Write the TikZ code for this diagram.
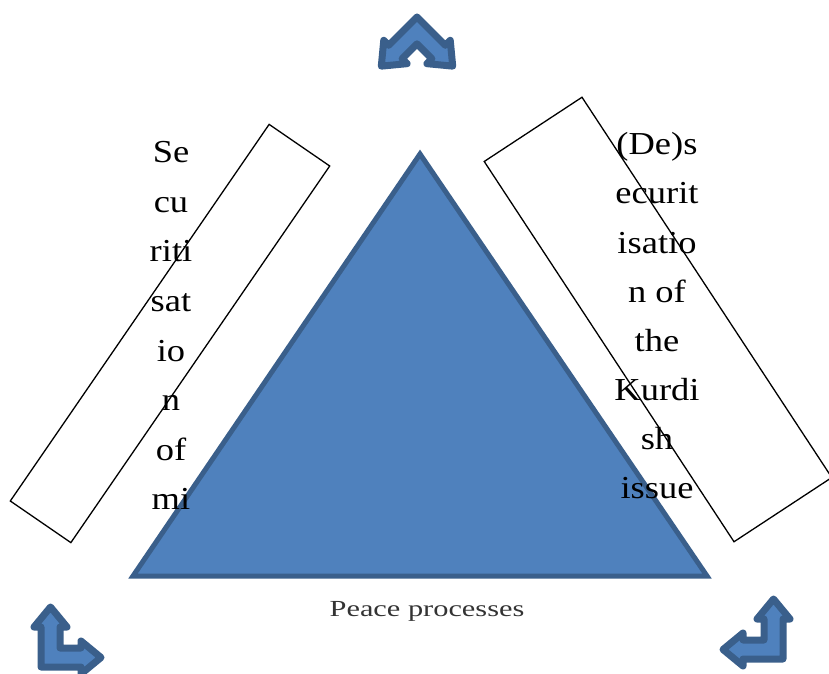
\documentclass[tikz,border=0pt]{standalone}
\usepackage{fontspec}
\setmainfont{Liberation Serif}
\usepackage{xcolor}
\usetikzlibrary{positioning}

\definecolor{triblue}{HTML}{4F81BD}
\definecolor{edgeblue}{HTML}{3A5F8B}
\definecolor{labelgray}{HTML}{333333}

\tikzset{
  arrowshape/.style={fill=triblue, draw=edgeblue, line width=7pt, line join=round},
  bentarrow/.pic={
    \draw[arrowshape] (0,0) -- (40,0) -- (40,-7) -- (60,9.5) -- (40,26) -- (40,19)
      -- (19,19) -- (19,40) -- (26,40) -- (9.5,60) -- (-7,40) -- (0,40) -- cycle;
  },
  textbox/.style={draw, line width=1.3pt, rectangle, inner sep=0pt},
  bigword/.style={anchor=base, inner sep=0pt, xscale=1.14, font=\fontsize{32}{38}\selectfont}
}

\begin{document}
\begin{tikzpicture}[x=1pt, y=1pt]
  \useasboundingbox (0,0) rectangle (829,673);

  % Triangulo central
  \draw[fill=triblue, draw=edgeblue, line width=5pt, line join=miter]
    (420,519) -- (133,97) -- (707,97) -- cycle;
  \node[anchor=base, text=labelgray, xscale=1.32, font=\fontsize{23}{27}\selectfont] (peace) at (427,57) {Peace processes};

  % Caixas inclinadas
  \node[textbox, minimum width=457pt, minimum height=73.5pt, rotate=55.5] (secbox) at (170,339.5) {};
  \node[textbox, minimum width=455pt, minimum height=117pt, rotate=-56.7] (desecbox) at (658,353.5) {};

  % Texto das caixas
  \foreach \w [count=\i] in {Se,cu,riti,sat,io,n,of,mi}
    \node[bigword] (secline\i) at (171,{510-49.5*(\i-1)}) {\w};
  \foreach \w [count=\i] in {(De)s,ecurit,isatio,n of,the,Kurdi,sh,issue}
    \node[bigword] (desecline\i) at (657,{518-49*(\i-1)}) {\w};

  % Setas dobradas
  \pic at (41,6) {bentarrow};
  \pic[xscale=-1] at (783,14) {bentarrow};
  \pic[rotate=-135] at (417,656) {bentarrow};
\end{tikzpicture}
\end{document}
